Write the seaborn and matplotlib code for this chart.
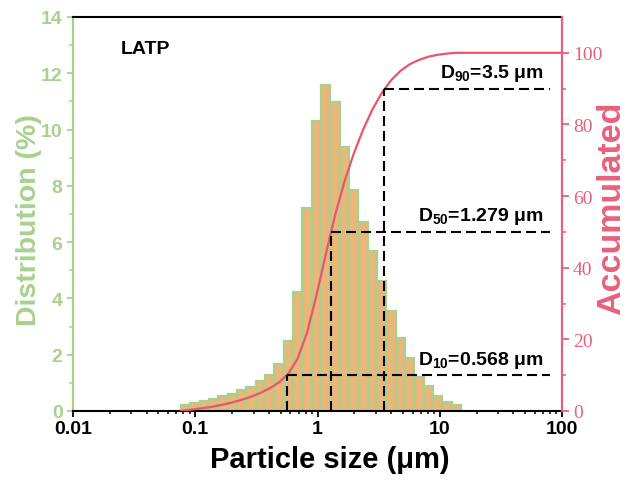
import numpy as np
import pandas as pd
import matplotlib
matplotlib.use("Agg")
import matplotlib.pyplot as plt
import seaborn as sns
from matplotlib.ticker import (FixedLocator, FixedFormatter, LogLocator,
                               NullFormatter, MultipleLocator)

# Size classes of the analyser (bin edges, µm)
bin_edges = [0.07638, 0.09108, 0.1086, 0.1295, 0.1544, 0.1841, 0.2195, 0.2617,
             0.3120, 0.3721, 0.4436, 0.5289, 0.6307, 0.7520, 0.8967, 1.069,
             1.275, 1.520, 1.812, 2.161, 2.576, 3.073, 3.663, 4.368, 5.207,
             6.209, 7.402, 8.827, 10.53, 12.55, 14.96]

# Volume fraction in each size class (%)
distribution = [0.23, 0.27, 0.34, 0.42, 0.52, 0.62, 0.73, 0.85, 1.07, 1.29,
                1.66, 2.49, 4.23, 7.20, 10.29, 11.59, 10.97, 9.37, 7.87, 6.70,
                5.68, 4.61, 3.56, 2.61, 1.88, 1.22, 0.88, 0.55, 0.33, 0.21]

# Characteristic diameters (µm) and their cumulative levels (%)
d_values = [0.568, 1.279, 3.5]
d_levels = [10, 50, 90]
d_names = ["10", "50", "90"]

x_ticks = [0.01, 0.1, 1, 10, 100]
x_ticklabels = ["0.01", "0.1", "1", "10", "100"]

GREEN = "#A9D18E"
ORANGE = "#EAB67A"
PINK = "#E6617C"
CURVE = "#E8566D"

sns.set_style("ticks")
plt.rcParams["font.family"] = ["Liberation Sans", "DejaVu Sans"]
plt.rcParams["text.color"] = "black"
plt.rcParams["axes.labelcolor"] = "black"
plt.rcParams["axes.edgecolor"] = "black"
plt.rcParams["xtick.color"] = "black"
plt.rcParams["ytick.color"] = "black"
plt.rcParams["mathtext.fontset"] = "custom"
plt.rcParams["mathtext.rm"] = "Liberation Sans:bold"
plt.rcParams["mathtext.it"] = "Liberation Sans:bold"
plt.rcParams["mathtext.bf"] = "Liberation Sans:bold"

edges = np.array(bin_edges)
centers = np.sqrt(edges[:-1] * edges[1:])
df = pd.DataFrame({"size": centers, "dist": distribution})

fig = plt.figure(figsize=(6.27, 4.81), dpi=100)
ax = fig.add_axes([73 / 627, 1 - 412 / 481, 489 / 627, 394 / 481])

sns.histplot(data=df, x="size", weights="dist",
             bins=[float(v) for v in np.log10(edges)],
             log_scale=True, stat="count", color=ORANGE, edgecolor=GREEN,
             linewidth=1.6, alpha=1, ax=ax)

# Cumulative curve on the secondary axis
ax2 = ax.twinx()
cum = np.cumsum(distribution) / np.sum(distribution) * 100
cum_x = np.concatenate([[edges[0]], centers, [100]])
cum_y = np.concatenate([[0], cum, [100]])
sns.lineplot(x=cum_x, y=cum_y, color=CURVE, linewidth=1.6, ax=ax2,
             estimator=None, sort=False)

# Dashed guides for D10, D50 and D90
dash = (0, (4.8, 2.4))
for d, lvl, name in zip(d_values, d_levels, d_names):
    ax2.plot([d, d], [0, lvl], color="black", linewidth=1.5, linestyle=dash)
    ax2.plot([d, 80], [lvl, lvl], color="black", linewidth=1.5, linestyle=dash)
    ax2.annotate(r"$\mathrm{D_{%s}}$=%s μm" % (name, d), xy=(71, lvl),
                 xytext=(0, 4), textcoords="offset points", ha="right",
                 va="bottom", fontsize=14, fontweight="bold", color="black")

# Primary axis: size axis and distribution
ax.set_xlim(0.01, 100)
ax.set_ylim(0, 14)
ax.xaxis.set_major_locator(FixedLocator(x_ticks))
ax.xaxis.set_major_formatter(FixedFormatter(x_ticklabels))
ax.xaxis.set_minor_locator(LogLocator(base=10, subs=np.arange(2, 10)))
ax.xaxis.set_minor_formatter(NullFormatter())
ax.yaxis.set_major_locator(MultipleLocator(2))
ax.yaxis.set_minor_locator(MultipleLocator(1))

ax.tick_params(axis="x", which="major", direction="out", length=4.5, width=1.3,
               pad=2, labelsize=14, colors="black")
ax.tick_params(axis="x", which="minor", direction="out", length=2.5, width=1.1,
               colors="black")
ax.tick_params(axis="y", which="major", direction="out", length=4.5, width=1.3,
               pad=3, labelsize=14, colors=GREEN)
ax.tick_params(axis="y", which="minor", direction="out", length=3, width=1.1,
               colors=GREEN)
for lab in ax.get_xticklabels() + ax.get_yticklabels():
    lab.set_fontweight("bold")

ax.spines["left"].set_color(GREEN)
ax.spines["left"].set_linewidth(1.6)
ax.spines["bottom"].set_color("black")
ax.spines["bottom"].set_linewidth(1.5)
ax.spines["top"].set_visible(True)
ax.spines["top"].set_color("black")
ax.spines["top"].set_linewidth(1.5)
ax.spines["right"].set_visible(False)

ax.set_xlabel("Particle size (μm)", fontsize=21, fontweight="bold",
              color="black")
ax.xaxis.set_label_coords((330 - 73) / 489, -0.087)
ax.set_ylabel("Distribution (%)", fontsize=20.5, fontweight="bold", color=GREEN)
ax.yaxis.set_label_coords(-0.063, 0.487)

ax.text(0.098, 0.919, "LATP", transform=ax.transAxes, fontsize=14,
        fontweight="bold", ha="left", va="center", color="black")

# Secondary axis: accumulated percentage
ax2.set_ylim(0, 110)
ax2.yaxis.set_major_locator(FixedLocator([0, 20, 40, 60, 80, 100]))
ax2.yaxis.set_minor_locator(FixedLocator([10, 30, 50, 70, 90]))
ax2.tick_params(axis="y", which="major", direction="out", length=5, width=1.3,
                pad=3, labelsize=14, colors=PINK)
ax2.tick_params(axis="y", which="minor", direction="out", length=3, width=1.1,
                colors=PINK)
for lab in ax2.get_yticklabels():
    lab.set_fontfamily("Liberation Serif")
ax2.spines["right"].set_color(PINK)
ax2.spines["right"].set_linewidth(1.6)
ax2.spines["left"].set_visible(False)
ax2.spines["top"].set_visible(False)
ax2.spines["bottom"].set_visible(False)
ax2.set_ylabel("Accumulated", fontsize=24.5, fontweight="bold", color=PINK)
ax2.yaxis.set_label_coords((596 - 73) / 489, 0.518)

fig.savefig("out.png", dpi=100)
